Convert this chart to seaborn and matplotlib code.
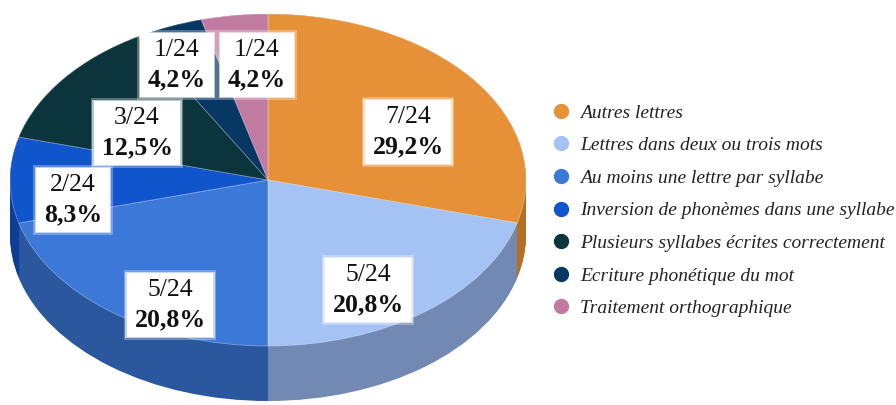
import matplotlib
matplotlib.use("Agg")
import matplotlib.pyplot as plt
from matplotlib.lines import Line2D
import seaborn as sns
import numpy as np

# %% data
categories = ["Autres lettres", "Lettres dans deux ou trois mots",
              "Au moins une lettre par syllabe",
              "Inversion de phonèmes dans une syllabe",
              "Plusieurs syllabes écrites correctement",
              "Ecriture phonétique du mot", "Traitement orthographique"]
counts = [7, 5, 5, 2, 3, 1, 1]
total = 24
fractions = [f"{c}/{total}" for c in counts]
percents = ["29,2%", "20,8%", "20,8%", "8,3%", "12,5%", "4,2%", "4,2%"]

top_colors = ["#e69138", "#a4c2f4", "#3c78d8", "#1155cc", "#0c343d", "#073763", "#c27ba0"]
side_colors = ["#b56f25", "#7189b3", "#2b579f", "#0b3e94", "#08252c", "#052648", "#8f5a76"]

# %% style
sns.set_style("white")
plt.rcParams["font.family"] = ["Liberation Serif", "DejaVu Serif"]

fig = plt.figure(figsize=(8.96, 4.05), dpi=100)
ax = fig.add_axes([0, 0, 1, 1])

# pie pixel geometry: centre (268, 180), radii 258 x 166
cx, cy, rx, ry = 268, 180, 258, 166
depth = 55 / ry

# side of the 3D pie: darker copies stacked downwards
for off in np.linspace(depth, 0, 40):
    ax.pie(counts, colors=side_colors, startangle=90, counterclock=False,
           center=(0, -off), radius=1, wedgeprops=dict(linewidth=0))

wedges, _ = ax.pie(counts, colors=top_colors, startangle=90, counterclock=False,
                   center=(0, 0), radius=1,
                   wedgeprops=dict(linewidth=0.6, edgecolor=(1, 1, 1, 0.35)))

ax.set_aspect("auto")
ax.set_xlim(-cx / rx, (896 - cx) / rx)
ax.set_ylim((cy - 405) / ry, cy / ry)
ax.axis("off")

# label boxes (pixel positions of box centres)
label_px = [(408, 132), (368, 290), (170, 305), (73, 200), (137, 133), (177, 65), (257, 65)]
for (px, py), fr, pc in zip(label_px, fractions, percents):
    xy = ((px - cx) / rx, (cy - py) / ry)
    for pad, a in [(0.42, 0.3), (0.36, 0.6), (0.3, 1.0)]:
        ax.annotate(f"{fr}\n{pc}", xy, ha="center", va="center", fontsize=18.5,
                    fontweight="bold", color=(0, 0, 0, 0), linespacing=1.1,
                    bbox=dict(boxstyle=f"square,pad={pad}", fc=(1, 1, 1, a), ec="none"))
    ax.annotate(fr, xy, xytext=(0, 10.5), textcoords="offset points",
                ha="center", va="center", fontsize=18.5, color="#111111")
    ax.annotate(pc, xy, xytext=(0, -10.5), textcoords="offset points",
                ha="center", va="center", fontsize=18.5, fontweight="bold", color="#111111")

# legend
handles = [Line2D([], [], marker="o", linestyle="none", markersize=10,
                  markerfacecolor=c, markeredgecolor=c) for c in top_colors]
leg = fig.legend(handles, categories, loc="upper left",
                 bbox_to_anchor=(553 / 896, 1 - 104 / 405), frameon=False,
                 prop=dict(family="Liberation Serif", style="italic", size=14),
                 handlelength=0.8, handletextpad=0.6, labelspacing=0.77,
                 borderpad=0, borderaxespad=0)
for t in leg.get_texts():
    t.set_color("#222222")

fig.savefig("out.png", dpi=100, facecolor="white")
